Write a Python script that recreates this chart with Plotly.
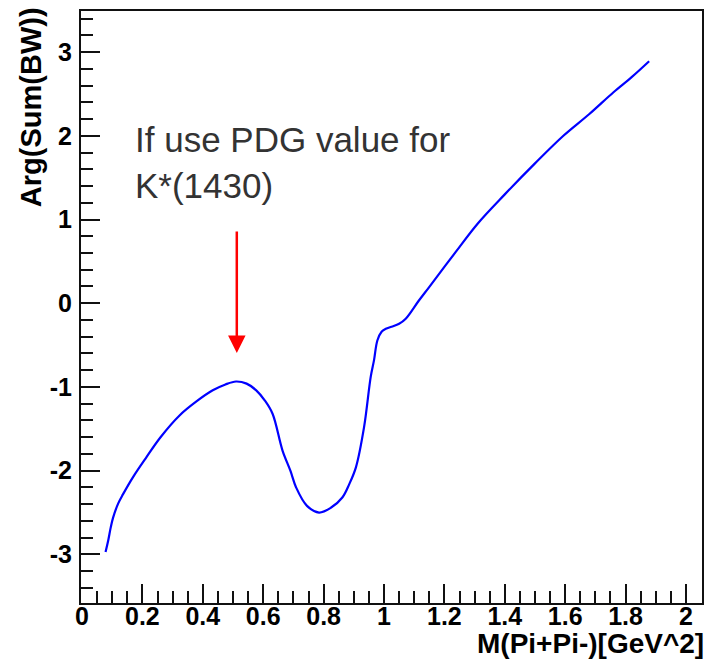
import plotly.graph_objects as go

# Phase of the summed Breit-Wigner amplitude vs. pi+pi- invariant mass squared
mass_sq = [0.078, 0.087, 0.095, 0.103, 0.120, 0.136, 0.170, 0.213, 0.260, 0.323,
           0.380, 0.433, 0.475, 0.510, 0.545, 0.577, 0.605, 0.631, 0.664, 0.690,
           0.709, 0.745, 0.785, 0.825, 0.862, 0.885, 0.907, 0.934, 0.956, 0.967,
           0.978, 0.992, 1.006, 1.025, 1.050, 1.072, 1.115, 1.149, 1.237, 1.310,
           1.400, 1.500, 1.594, 1.680, 1.760, 1.820, 1.878]
phase = [-2.97, -2.83, -2.68, -2.56, -2.39, -2.28, -2.07, -1.84, -1.60, -1.34,
         -1.17, -1.04, -0.97, -0.935, -0.96, -1.04, -1.16, -1.32, -1.76, -2.00,
         -2.20, -2.42, -2.50, -2.44, -2.32, -2.16, -1.96, -1.48, -0.88, -0.68,
         -0.445, -0.34, -0.305, -0.28, -0.245, -0.185, 0.03, 0.19, 0.61, 0.95,
         1.30, 1.67, 2.00, 2.26, 2.52, 2.70, 2.89]

x_tick_vals = [0, 0.2, 0.4, 0.6, 0.8, 1.0, 1.2, 1.4, 1.6, 1.8, 2.0]
x_tick_text = ["0", "0.2", "0.4", "0.6", "0.8", "1", "1.2", "1.4", "1.6", "1.8", "2"]
y_tick_vals = [-3, -2, -1, 0, 1, 2, 3]
y_tick_text = ["-3", "-2", "-1", "0", "1", "2", "3"]

x_title = "M(Pi+Pi-)[GeV^2]"
y_title = "Arg(Sum(BW))"
note_lines = ["If use PDG value for", "K*(1430)"]

FONT = "Liberation Sans, Arial, Helvetica, sans-serif"

# plot-area geometry in pixels
W, H = 710, 667
L, R, T, B = 81, 6, 11, 64
PW, PH = W - L - R, H - T - B

x_range = [-0.0033, 2.053]
y_range = [-3.58, 3.49]


def px_to_x(px):
    return x_range[0] + (px - L) / PW * (x_range[1] - x_range[0])


def py_to_y(py):
    return y_range[1] - (py - T) / PH * (y_range[1] - y_range[0])


fig = go.Figure(
    go.Scatter(
        x=mass_sq, y=phase, mode="lines",
        line=dict(color="#0000ff", width=2.2, shape="spline", smoothing=1.0),
        hoverinfo="skip",
    )
)

axis_common = dict(
    showline=True, linecolor="#111111", linewidth=2, mirror=True,
    showgrid=False, zeroline=False,
    ticks="inside", ticklen=19, tickwidth=2, tickcolor="#111111",
    tickfont=dict(family=FONT, size=25, color="#000000", weight="bold"),
)

fig.update_xaxes(
    range=x_range, tickmode="array", tickvals=x_tick_vals, ticktext=x_tick_text,
    ticklabelstandoff=-10,
    minor=dict(tickmode="linear", tick0=0, dtick=0.05, ticks="inside",
               ticklen=12, tickwidth=2, tickcolor="#111111"),
    **axis_common,
)
fig.update_yaxes(
    range=y_range, tickmode="array", tickvals=y_tick_vals, ticktext=y_tick_text,
    ticklabelstandoff=2,
    minor=dict(tickmode="linear", tick0=0, dtick=0.2, ticks="inside",
               ticklen=12, tickwidth=2, tickcolor="#111111"),
    **axis_common,
)

annotations = [
    # axis titles, aligned to the far end of each axis
    dict(text=x_title, xref="paper", yref="paper",
         x=(708 - L) / PW, y=(T + PH - 643) / PH, xanchor="right", yanchor="middle",
         showarrow=False, font=dict(family=FONT, size=28, color="#000000", weight="bold")),
    dict(text=y_title, xref="paper", yref="paper", textangle=-90,
         x=(31 - L) / PW, y=(T + PH - 5) / PH, xanchor="center", yanchor="top",
         showarrow=False, font=dict(family=FONT, size=29, color="#000000", weight="bold")),
    # note text
    dict(text="<br>".join(note_lines), xref="x", yref="y",
         x=px_to_x(133), y=py_to_y(162), xanchor="left", yanchor="middle", align="left",
         showarrow=False, font=dict(family=FONT, size=35, color="#333333")),
    # red arrow pointing at the local maximum
    dict(text="", xref="x", yref="y", axref="x", ayref="y",
         x=px_to_x(237.3), y=py_to_y(353), ax=px_to_x(237.3), ay=py_to_y(230),
         showarrow=True, arrowhead=2, arrowsize=1.4, arrowwidth=2.5,
         arrowcolor="#ff0000", standoff=0),
]

fig.update_layout(
    width=W, height=H,
    margin=dict(l=L, r=R, t=T, b=B, pad=0),
    paper_bgcolor="#ffffff", plot_bgcolor="#ffffff",
    showlegend=False,
    annotations=annotations,
)

fig.write_html("out.html")
